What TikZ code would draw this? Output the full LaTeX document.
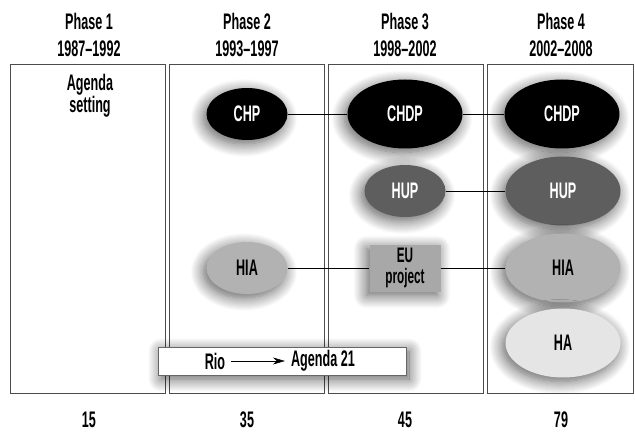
\documentclass[tikz,border=0pt]{standalone}
\usepackage{fontspec}
\setmainfont{Liberation Sans}[FakeStretch=0.56]
\usetikzlibrary{arrows.meta, shapes.geometric, shadows.blur}
\definecolor{HupGray}{gray}{0.37}
\definecolor{HiaGray}{gray}{0.70}
\definecolor{EuGray}{gray}{0.66}
\definecolor{HaGray}{gray}{0.90}

\begin{document}
\begin{tikzpicture}[x=1pt, y=-1pt, >=Stealth,
    phasebox/.style={draw=black!70, line width=0.8pt},
    txt/.style={font=\bfseries\fontsize{22.5}{27}\selectfont, align=center},
    soft/.style={blur shadow={shadow xshift=-3pt, shadow yshift=-4pt, shadow blur radius=13pt, shadow blur steps=14, shadow opacity=65}},
    blob/.style={ellipse, soft, inner sep=0pt, minimum width=81pt, minimum height=52pt, txt},
    bigblob/.style={blob, minimum width=115pt, minimum height=69pt},
    link/.style={line width=0.6pt}]
        \useasboundingbox (0,0) rectangle (635,433);
        % Phase columns
        \draw [phasebox] (10,64) rectangle (165,393);
        \draw [phasebox] (169,64) rectangle (324,393);
        \draw [phasebox] (328,64) rectangle (483,393);
        \draw [phasebox] (487,64) rectangle (633,393);
        % Headings
        \node [txt] (head1) at (89,35) {Phase 1\\1987--1992};
        \node [txt] (head2) at (247,35) {Phase 2\\1993--1997};
        \node [txt] (head3) at (405,35) {Phase 3\\1998--2002};
        \node [txt] (head4) at (561,35) {Phase 4\\2002--2008};
        % Counts
        \node [txt] (count1) at (89,420) {15};
        \node [txt] (count2) at (247,420) {35};
        \node [txt] (count3) at (405,420) {45};
        \node [txt] (count4) at (561,420) {79};
        % Phase 1
        \node [txt, font=\bfseries\fontsize{22.5}{20}\selectfont] (agenda) at (90,96) {Agenda\\setting};
        % Programmes
        \node [blob, fill=black, text=white] (chp) at (247,114) {CHP};
        \node [bigblob, fill=black, text=white] (chdp3) at (405,114) {CHDP};
        \node [bigblob, fill=black, text=white] (chdp4) at (562,114) {CHDP};
        \node [blob, fill=HupGray, text=white] (hup3) at (405,191) {HUP};
        \node [bigblob, fill=HupGray, text=white] (hup4) at (563,191) {HUP};
        \node [blob, fill=HiaGray] (hia2) at (247,268) {HIA};
        \node [rectangle, soft, fill=EuGray, minimum width=71pt, minimum height=47pt, inner sep=0pt, txt, font=\bfseries\fontsize{21}{21}\selectfont] (eu) at (405,268) {EU\\project};
        \node [bigblob, fill=HiaGray] (hia4) at (563,268) {HIA};
        \node [bigblob, fill=HaGray] (ha) at (563,343) {HA};
        % Links
        \draw [link] (chp) -- (chdp3);
        \draw [link] (chdp3) -- (chdp4);
        \draw [link] (hup3) -- (hup4);
        \draw [link] (hia2) -- (eu);
        \draw [link] (eu) -- (hia4);
        % Rio box
        \node [rectangle, fill=white, draw=black!60, line width=0.8pt, minimum width=248pt, minimum height=28pt,
               blur shadow={shadow xshift=3pt, shadow yshift=-4pt, shadow blur radius=13pt, shadow blur steps=14, shadow opacity=65}] (rio) at (282,361) {};
        \node [txt, inner sep=2pt] (riotext) at (215,361) {Rio};
        \node [txt, inner sep=2pt] (agenda21) at (323,361) {Agenda 21};
        \draw [line width=0.5pt, shorten <=4pt, shorten >=4pt, -{Stealth[length=12pt, width=7pt]}] (riotext) -- (agenda21);
    \end{tikzpicture}
\end{document}
